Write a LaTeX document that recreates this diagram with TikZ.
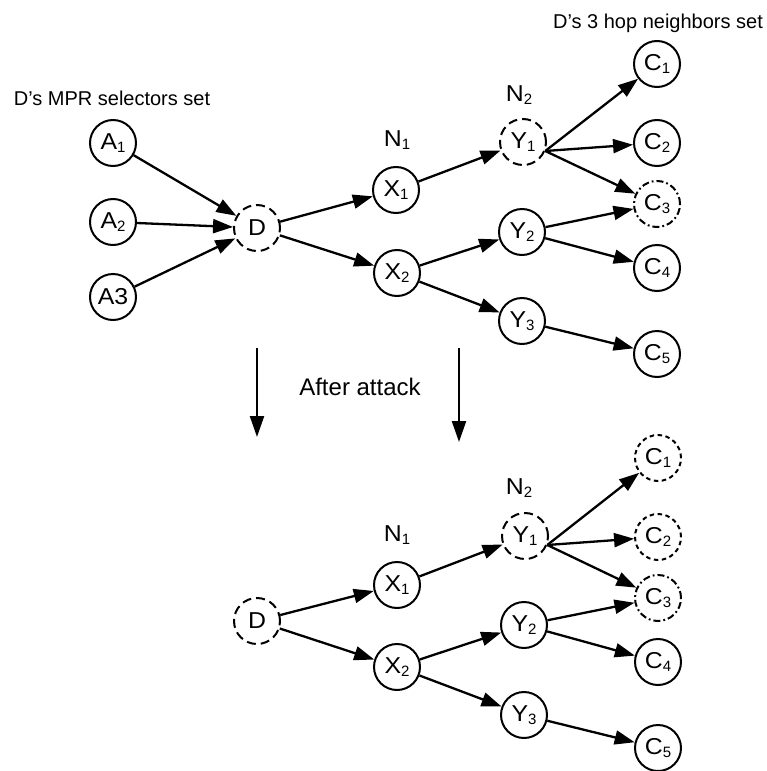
\documentclass[tikz,border=0pt]{standalone}
\usepackage{fontspec}
\setmainfont{Liberation Sans}
\usetikzlibrary{arrows.meta}
\newcommand{\sbs}[1]{\raisebox{-3pt}{\fontsize{15}{15}\selectfont #1}}
\newcommand{\wdx}[1]{\scalebox{1.08}[1]{#1}}
\begin{document}
\begin{tikzpicture}[x=1pt,y=-1pt,
  nd/.style={circle,draw,line width=2pt,minimum size=46pt,inner sep=0pt,font=\fontsize{23}{23}\selectfont},
  dsh/.style={dash pattern=on 9pt off 5pt},
  fine/.style={dash pattern=on 4.5pt off 3.5pt},
  dd/.style={dash pattern=on 7pt off 3pt on 1.8pt off 3pt},
  lab/.style={font=\fontsize{23}{23}\selectfont},
  ttl/.style={font=\fontsize{20}{20}\selectfont},
  bigl/.style={font=\fontsize{24}{24}\selectfont},
  edge/.style={line width=2.3pt,-{Triangle[length=20pt,width=14pt]}}]
\useasboundingbox (0,0) rectangle (767,771);

% ---------- top ----------
\node[ttl] (t1) at (112,98) {D’s MPR selectors set};
\node[ttl] (t2) at (658,23) {D’s 3 hop neighbors set};
\node[nd] (tA1) at (113,143) {\wdx{A}\sbs{1}};
\node[nd] (tA2) at (113,222) {\wdx{A}\sbs{2}};
\node[nd] (tA3) at (113,297) {\wdx{A3}};
\node[nd,dsh] (tD) at (257,228) {\wdx{D}};
\node[lab] (tN1) at (397,140) {\wdx{N}\sbs{1}};
\node[nd] (tX1) at (396,190) {\wdx{X}\sbs{1}};
\node[nd] (tX2) at (397,273) {\wdx{X}\sbs{2}};
\node[lab] (tN2) at (519,95) {\wdx{N}\sbs{2}};
\node[nd,dsh] (tY1) at (523,142) {\wdx{Y}\sbs{1}};
\node[nd] (tY2) at (522,232) {\wdx{Y}\sbs{2}};
\node[nd] (tY3) at (522,321) {\wdx{Y}\sbs{3}};
\node[nd] (tC1) at (657,64) {\wdx{C}\sbs{1}};
\node[nd] (tC2) at (657,143) {\wdx{C}\sbs{2}};
\node[nd,dd] (tC3) at (657,204) {\wdx{C}\sbs{3}};
\node[nd] (tC4) at (657,268) {\wdx{C}\sbs{4}};
\node[nd] (tC5) at (657,354) {\wdx{C}\sbs{5}};

\draw[edge] (tA1) -- (tD);
\draw[edge] (tA2) -- (tD);
\draw[edge] (tA3) -- (tD);
\draw[edge] (tD) -- (tX1);
\draw[edge] (tD) -- (tX2);
\draw[edge] (tX1) -- (tY1);
\draw[edge] (tX2) -- (tY2);
\draw[edge] (tX2) -- (tY3);
\draw[edge] (tY1.-22) -- (tC1);
\draw[edge] (tY1.-22) -- (tC2);
\draw[edge] (tY1.-22) -- (tC3);
\draw[edge] (tY2) -- (tC3);
\draw[edge] (tY2) -- (tC4);
\draw[edge] (tY3) -- (tC5);

% ---------- middle ----------
\coordinate (a1s) at (257,348);
\coordinate (a1e) at (257,437);
\coordinate (a2s) at (459,348);
\coordinate (a2e) at (459,442);
\draw[line width=2.3pt,-{Triangle[length=21pt,width=14pt]}] (a1s) -- (a1e);
\draw[line width=2.3pt,-{Triangle[length=21pt,width=14pt]}] (a2s) -- (a2e);
\node[bigl] (aft) at (360,387) {After attack};

% ---------- bottom ----------
\node[nd,dsh] (bD) at (257,621) {\wdx{D}};
\node[lab] (bN1) at (397,535) {\wdx{N}\sbs{1}};
\node[nd] (bX1) at (397,585) {\wdx{X}\sbs{1}};
\node[nd] (bX2) at (397,667) {\wdx{X}\sbs{2}};
\node[lab] (bN2) at (519,488) {\wdx{N}\sbs{2}};
\node[nd,dsh] (bY1) at (525,536) {\wdx{Y}\sbs{1}};
\node[nd] (bY2) at (524,625) {\wdx{Y}\sbs{2}};
\node[nd] (bY3) at (524,715) {\wdx{Y}\sbs{3}};
\node[nd,fine] (bC1) at (658,458) {\wdx{C}\sbs{1}};
\node[nd,fine] (bC2) at (658,537) {\wdx{C}\sbs{2}};
\node[nd,dd] (bC3) at (658,598) {\wdx{C}\sbs{3}};
\node[nd] (bC4) at (658,662) {\wdx{C}\sbs{4}};
\node[nd] (bC5) at (658,748) {\wdx{C}\sbs{5}};

\draw[edge] (bD) -- (bX1);
\draw[edge] (bD) -- (bX2);
\draw[edge] (bX1) -- (bY1);
\draw[edge] (bX2) -- (bY2);
\draw[edge] (bX2) -- (bY3);
\draw[edge] (bY1.-22) -- (bC1);
\draw[edge] (bY1.-22) -- (bC2);
\draw[edge] (bY1.-22) -- (bC3);
\draw[edge] (bY2) -- (bC3);
\draw[edge] (bY2) -- (bC4);
\draw[edge] (bY3) -- (bC5);
\end{tikzpicture}
\end{document}
